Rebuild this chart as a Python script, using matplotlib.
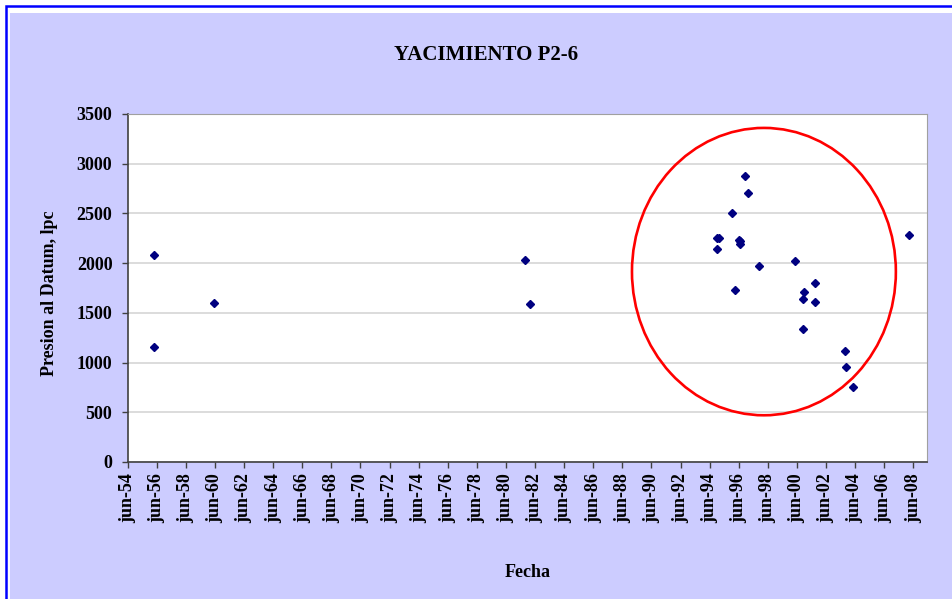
import datetime as dt
import matplotlib
matplotlib.use('Agg')
import matplotlib.pyplot as plt
import matplotlib.dates as mdates
from matplotlib.patches import Ellipse, Rectangle

# measured pressures at datum (lpc) and their dates
fechas = ['1956-03-26', '1956-03-26', '1960-05-08', '1981-09-24', '1982-02-03',
          '1994-12-10', '1995-01-30', '1994-12-10', '1995-12-05', '1996-03-08',
          '1996-06-05', '1996-07-15', '1996-06-25', '1996-10-30', '1997-01-26',
          '1997-10-30', '2000-04-12', '2000-12-01', '2000-10-30', '2000-10-30',
          '2001-09-05', '2001-09-05', '2003-09-20', '2003-10-15', '2004-04-15',
          '2008-02-20']
presion = [2077, 1160, 1600, 2027, 1590,
           2253, 2253, 2147, 2503, 1730,
           2230, 2225, 2195, 2873, 2703,
           1967, 2017, 1707, 1637, 1337,
           1800, 1610, 1113, 957, 753,
           2280]

tick_years = list(range(1954, 2009, 2))
tick_labels = ['jun-%02d' % (y % 100) for y in tick_years]
y_ticks = [0, 500, 1000, 1500, 2000, 2500, 3000, 3500]

# hand-drawn highlight circle
circ_centro = ('1998-02-24', 1915)
circ_ancho_dias = 6626
circ_alto = 2890

plt.rcParams['font.family'] = ['Liberation Serif', 'DejaVu Serif']
plt.rcParams['font.weight'] = 'bold'

fig = plt.figure(figsize=(9.53, 5.99), dpi=100, facecolor='white')
W, H = 953.0, 599.0

# chart area background and blue frame
fig.patches.append(Rectangle((10 / W, 0), 1, 1 - 13 / H, transform=fig.transFigure,
                             facecolor='#CCCCFF', edgecolor='none', zorder=-3))
fig.patches.append(Rectangle((6 / W, -0.1), 1.2, 1.1 - 6 / H, transform=fig.transFigure,
                             facecolor='none', edgecolor='#0000FF', linewidth=1.8, zorder=-2))

ax = fig.add_axes([127.7 / W, 1 - 462 / H, (926.7 - 127.7) / W, (462 - 114) / H])
ax.set_facecolor('white')

x = [dt.datetime.strptime(f, '%Y-%m-%d') for f in fechas]
ax.plot(x, presion, linestyle='none', marker='D', markersize=4.5,
        color='#000080', zorder=3)

ell = Ellipse((mdates.date2num(dt.datetime.strptime(circ_centro[0], '%Y-%m-%d')), circ_centro[1]),
              width=circ_ancho_dias, height=circ_alto, facecolor='none',
              edgecolor='#FF0000', linewidth=1.9, zorder=4)
ax.add_patch(ell)

ax.set_xlim(dt.datetime(1954, 6, 1), dt.datetime(2009, 5, 4))
ax.set_ylim(0, 3500)
ax.set_xticks([dt.datetime(y, 6, 1) for y in tick_years])
ax.set_xticklabels(tick_labels, rotation=90)
ax.set_yticks(y_ticks)
ax.set_yticklabels([str(v) for v in y_ticks])

ax.yaxis.grid(True, color='#D9D9D9', linewidth=1.3)
ax.set_axisbelow(True)
ax.tick_params(axis='both', direction='out', length=4, width=1, color='#404040',
               labelsize=13)
ax.tick_params(axis='y', pad=7)
ax.tick_params(axis='x', pad=4)
for s in ['left', 'bottom']:
    ax.spines[s].set_color('#404040')
    ax.spines[s].set_linewidth(1.2)
for s in ['top', 'right']:
    ax.spines[s].set_color('#A0A0A0')
    ax.spines[s].set_linewidth(0.8)

ax.set_ylabel('Presion al Datum, lpc', fontsize=13, fontweight='bold')
ax.yaxis.set_label_coords(-0.087, 0.485)
ax.set_xlabel('Fecha', fontsize=13, fontweight='bold')
ax.xaxis.set_label_coords(0.5, -0.293)

fig.text(486 / W, 1 - 55 / H, 'YACIMIENTO P2-6', ha='center', va='center',
         fontsize=15, fontweight='bold')

fig.savefig('out.png', dpi=100, facecolor=fig.get_facecolor())
